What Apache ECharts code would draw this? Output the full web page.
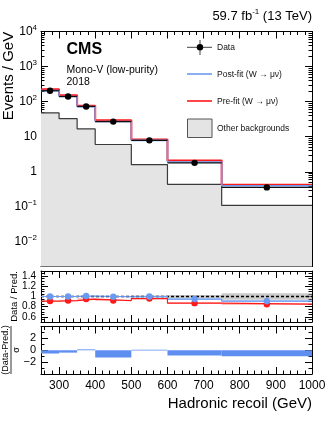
<!DOCTYPE html>
<html>
<head>
<meta charset="utf-8">
<script src="https://cdn.jsdelivr.net/npm/echarts@6/dist/echarts.min.js"></script>
<style>
html, body { margin: 0; padding: 0; background: #fff; }
#main { width: 332px; height: 430px; }
</style>
</head>
<body>
<div id="main"></div>
<script>
// bins of hadronic recoil (GeV)
var binEdges = [250, 300, 350, 400, 500, 600, 750, 1000];
// events / GeV
var dataVals = [205, 140, 73, 27, 7.9, 1.8, 0.36];
var dataErrs = [2, 1.7, 1.2, 0.5, 0.28, 0.11, 0.04];
var postFit = [206, 141, 72, 27.2, 7.9, 1.9, 0.40];
var preFit = [225, 152, 77, 29.5, 8.3, 2.1, 0.43];
var otherBkg = [48, 33, 16.7, 6.0, 1.6, 0.44, 0.11];
// ratio panel
var ratioPost = [1.0, 1.0, 1.01, 0.995, 1.0, 0.95, 0.91];
var ratioPre = [0.91, 0.92, 0.95, 0.92, 0.96, 0.87, 0.85];
var ratioErr = [0.01, 0.012, 0.016, 0.019, 0.03, 0.045, 0.065];
var uncBand = [0.008, 0.008, 0.01, 0.01, 0.015, 0.03, 0.065];
var postBand = [0.01, 0.01, 0.012, 0.012, 0.015, 0.02, 0.02];
var preBand = [0.008, 0.015, 0.018, 0.01, 0.012, 0.018, 0.015];
// pull panel
var pulls = [-0.55, -0.4, 0.15, -1.2, 0.1, -0.9, -1.0];
// axis labels
var ratioTicks = ['0.6', '0.8', '1', '1.2', '1.4'];
var pullTicks = ['-2', '0', '2'];

var FONT = '"Liberation Sans", Arial, Helvetica, sans-serif';
var BLUE = '#6b9af2';
var RED = '#ff1a1a';

function steps(vals) {
    var pts = [];
    vals.forEach(function (v, i) {
        pts.push([binEdges[i], v]);
        pts.push([binEdges[i + 1], v]);
    });
    return pts;
}
function points(vals, errs) {
    return vals.map(function (v, i) {
        return [(binEdges[i] + binEdges[i + 1]) / 2, v, binEdges[i], binEdges[i + 1], errs[i]];
    });
}
function bands(center, half) {
    return center.map(function (c, i) {
        var m = (typeof c === 'number') ? c : 1;
        return [binEdges[i], binEdges[i + 1], m - half[i], m + half[i]];
    });
}
function ones() { return binEdges.slice(1).map(function () { return 1; }); }

function pointRender(color, barColor, withX) {
    return function (params, api) {
        var x = api.value(0), y = api.value(1), e = api.value(4);
        var c = api.coord([x, y]);
        var t = api.coord([x, y + e]), d = api.coord([x, y - e]);
        var kids = [];
        if (withX) {
            var a = api.coord([api.value(2), y]), b = api.coord([api.value(3), y]);
            kids.push({type: 'line', shape: {x1: a[0], y1: a[1], x2: b[0], y2: b[1]}, style: {stroke: barColor, lineWidth: 1.2}});
        }
        kids.push({type: 'line', shape: {x1: t[0], y1: t[1], x2: d[0], y2: d[1]}, style: {stroke: barColor, lineWidth: 1}});
        kids.push({type: 'circle', shape: {cx: c[0], cy: c[1], r: 3.2}, style: {fill: color}});
        return {type: 'group', children: kids};
    };
}
function rectRender(fill) {
    return function (params, api) {
        var p0 = api.coord([api.value(0), api.value(2)]);
        var p1 = api.coord([api.value(1), api.value(3)]);
        return {type: 'rect', shape: {x: p0[0], y: Math.min(p0[1], p1[1]), width: p1[0] - p0[0], height: Math.max(Math.abs(p1[1] - p0[1]), 0.8)}, style: {fill: fill}};
    };
}

function xAx(grid, pos, showLabel) {
    return {
        type: 'value', gridIndex: grid, position: pos, min: 250, max: 1000, splitNumber: 7,
        axisLine: {show: true, onZero: false, lineStyle: {color: '#000', width: 1}},
        axisTick: {show: true, inside: true, length: 7, lineStyle: {color: '#000'}},
        minorTick: {show: true, splitNumber: 5, length: 3.5, lineStyle: {color: '#000'}},
        splitLine: {show: false},
        axisLabel: {
            show: showLabel, color: '#000', fontFamily: FONT, fontSize: 12, margin: 6,
            showMinLabel: true, showMaxLabel: true,
            formatter: function (v) { return v % 100 === 0 ? String(v) : ''; }
        }
    };
}
function yAx(grid, pos, extra) {
    var ax = {
        gridIndex: grid, position: pos,
        axisLine: {show: true, onZero: false, lineStyle: {color: '#000', width: 1}},
        axisTick: {show: true, inside: true, length: 7, lineStyle: {color: '#000'}},
        minorTick: {show: true, length: 3.5, lineStyle: {color: '#000'}},
        splitLine: {show: false},
        axisLabel: {show: false}
    };
    return Object.assign(ax, extra);
}

var logLabel = {
    show: true, color: '#000', fontFamily: FONT, fontSize: 12, margin: 4,
    formatter: function (v) {
        var e = Math.log10(v), r = Math.round(e);
        if (Math.abs(e - r) > 1e-6) return '';
        if (r === 0) return '{b|1}';
        if (r === 1) return '{b|10}';
        return '{b|10}{s|' + (r < 0 ? '\u2212' + (-r) : r) + '}';
    },
    rich: {
        b: {fontFamily: FONT, fontSize: 12, color: '#000'},
        s: {fontFamily: FONT, fontSize: 8, color: '#000', padding: [0, 0, 8, 0]}
    }
};

var chart = echarts.init(document.getElementById('main'), null, {renderer: 'canvas'});

var option = {
    animation: false,
    backgroundColor: '#fff',
    grid: [
        {left: 41, width: 271, top: 31.5, height: 235},
        {left: 41, width: 271, top: 271, height: 51},
        {left: 41, width: 271, top: 326.5, height: 47.5}
    ],
    xAxis: [
        xAx(0, 'bottom', false), xAx(0, 'top', false),
        xAx(1, 'bottom', false), xAx(1, 'top', false),
        xAx(2, 'bottom', true), xAx(2, 'top', false)
    ],
    yAxis: [
        yAx(0, 'left', {type: 'log', logBase: 10, min: 0.002, max: 10000, minorTick: {show: true, splitNumber: 9, length: 3.5, lineStyle: {color: '#000'}}, axisLabel: logLabel}),
        yAx(0, 'right', {type: 'log', logBase: 10, min: 0.002, max: 10000, minorTick: {show: true, splitNumber: 9, length: 3.5, lineStyle: {color: '#000'}}}),
        yAx(1, 'left', {type: 'value', min: 0.5, max: 1.5, splitNumber: 5, minorTick: {show: true, splitNumber: 4, length: 3.5, lineStyle: {color: '#000'}},
            axisLabel: {show: true, color: '#000', fontFamily: FONT, fontSize: 10, margin: 5,
                formatter: function (v) { var s = String(Math.round(v * 10) / 10); return ratioTicks.indexOf(s) >= 0 ? s : ''; }}}),
        yAx(1, 'right', {type: 'value', min: 0.5, max: 1.5, splitNumber: 5, minorTick: {show: true, splitNumber: 4, length: 3.5, lineStyle: {color: '#000'}}}),
        yAx(2, 'left', {type: 'value', min: -4, max: 4, splitNumber: 4, minorTick: {show: true, splitNumber: 2, length: 3.5, lineStyle: {color: '#000'}},
            axisLabel: {show: true, color: '#000', fontFamily: FONT, fontSize: 11, margin: 5,
                formatter: function (v) { var s = String(Math.round(v)); return pullTicks.indexOf(s) >= 0 ? s.replace('-', '\u2212') : ''; }}}),
        yAx(2, 'right', {type: 'value', min: -4, max: 4, splitNumber: 4, minorTick: {show: true, splitNumber: 2, length: 3.5, lineStyle: {color: '#000'}}})
    ],
    series: [
        // main panel
        {type: 'line', name: 'Other backgrounds', xAxisIndex: 0, yAxisIndex: 0, data: steps(otherBkg), symbol: 'none',
            lineStyle: {color: '#3a3a3a', width: 1.2}, areaStyle: {color: '#e4e4e4', origin: 'start', opacity: 1}, z: 1},
        {type: 'line', name: 'Pre-fit', xAxisIndex: 0, yAxisIndex: 0, data: steps(preFit), symbol: 'none',
            lineStyle: {color: RED, width: 2}, z: 3},
        {type: 'line', name: 'Post-fit', xAxisIndex: 0, yAxisIndex: 0, data: steps(postFit), symbol: 'none',
            lineStyle: {color: BLUE, width: 1.6}, z: 4},
        {type: 'custom', name: 'Data', xAxisIndex: 0, yAxisIndex: 0, data: points(dataVals, dataErrs),
            encode: {x: 0, y: 1}, renderItem: pointRender('#000', '#111', true), z: 6},
        // ratio panel
        {type: 'custom', xAxisIndex: 2, yAxisIndex: 2, data: bands(ones(), uncBand), encode: {x: [0, 1], y: [2, 3]},
            renderItem: rectRender('rgba(160,160,160,0.55)'), z: 1},
        {type: 'custom', xAxisIndex: 2, yAxisIndex: 2, data: bands(ratioPost, postBand), encode: {x: [0, 1], y: [2, 3]},
            renderItem: rectRender('rgba(107,154,242,0.35)'), z: 2},
        {type: 'custom', xAxisIndex: 2, yAxisIndex: 2, data: bands(ratioPre, preBand), encode: {x: [0, 1], y: [2, 3]},
            renderItem: rectRender('rgba(255,40,40,0.3)'), z: 2},
        {type: 'line', xAxisIndex: 2, yAxisIndex: 2, data: [[250, 1], [1000, 1]], symbol: 'none',
            lineStyle: {color: '#000', width: 1.5, type: [3, 2]}, z: 3},
        {type: 'line', xAxisIndex: 2, yAxisIndex: 2, data: steps(ratioPost), symbol: 'none',
            lineStyle: {color: BLUE, width: 1.2}, z: 4},
        {type: 'line', xAxisIndex: 2, yAxisIndex: 2, data: steps(ratioPre), symbol: 'none',
            lineStyle: {color: RED, width: 1.2}, z: 4},
        {type: 'custom', xAxisIndex: 2, yAxisIndex: 2, data: points(ratioPre, ratioErr), encode: {x: 0, y: 1},
            renderItem: pointRender(RED, RED, false), z: 5},
        {type: 'custom', xAxisIndex: 2, yAxisIndex: 2, data: points(ratioPost, ratioErr), encode: {x: 0, y: 1},
            renderItem: pointRender(BLUE, BLUE, false), z: 6},
        // pull panel
        {type: 'custom', xAxisIndex: 4, yAxisIndex: 4,
            data: pulls.map(function (p, i) { return [binEdges[i], binEdges[i + 1], 0, p]; }),
            encode: {x: [0, 1], y: [2, 3]}, renderItem: rectRender('#5e8ff0'), z: 2}
    ],
    graphic: [
        {type: 'text', right: 20, top: 8, style: {text: '59.7 fb{s|-1} (13 TeV)', fontFamily: FONT, fontSize: 13, fill: '#000',
            rich: {s: {fontFamily: FONT, fontSize: 8, fill: '#000', padding: [0, 0, 8, 0]}}}},
        {type: 'text', x: 9, y: 76, rotation: Math.PI / 2,
            style: {text: 'Events / GeV', fontFamily: FONT, fontSize: 15, fill: '#000', align: 'center', verticalAlign: 'middle'}},
        {type: 'text', x: 14.5, y: 296.5, rotation: Math.PI / 2,
            style: {text: 'Data / Pred.', fontFamily: FONT, fontSize: 9.5, fill: '#000', align: 'center', verticalAlign: 'middle'}},
        {type: 'text', x: 6, y: 350, rotation: Math.PI / 2,
            style: {text: '(Data-Pred.)', fontFamily: FONT, fontSize: 9, fill: '#000', align: 'center', verticalAlign: 'middle'}},
        {type: 'line', shape: {x1: 11, y1: 326, x2: 11, y2: 374}, style: {stroke: '#000', lineWidth: 0.8}},
        {type: 'text', x: 17, y: 350, rotation: Math.PI / 2,
            style: {text: '\u03c3', fontFamily: FONT, fontSize: 9, fill: '#000', align: 'center', verticalAlign: 'middle'}},
        {type: 'text', right: 20, top: 396, style: {text: 'Hadronic recoil (GeV)', fontFamily: FONT, fontSize: 15, fill: '#000'}},
        // labels inside the frame
        {type: 'text', x: 66.5, y: 50, style: {text: 'CMS', fontFamily: FONT, fontSize: 16, fontWeight: 'bold', fill: '#000', verticalAlign: 'middle'}},
        {type: 'text', x: 66.5, y: 70.5, style: {text: 'Mono-V (low-purity)', fontFamily: FONT, fontSize: 10.5, fill: '#000', verticalAlign: 'middle'}},
        {type: 'text', x: 66.5, y: 82, style: {text: '2018', fontFamily: FONT, fontSize: 10.5, fill: '#000', verticalAlign: 'middle'}},
        // legend
        {type: 'line', shape: {x1: 187, y1: 47.3, x2: 212, y2: 47.3}, style: {stroke: '#444', lineWidth: 1}},
        {type: 'line', shape: {x1: 200, y1: 40, x2: 200, y2: 55}, style: {stroke: '#444', lineWidth: 1}},
        {type: 'circle', shape: {cx: 200, cy: 47.3, r: 3.2}, style: {fill: '#000'}},
        {type: 'text', x: 217, y: 47.5, style: {text: 'Data', fontFamily: FONT, fontSize: 8.5, fill: '#111', verticalAlign: 'middle'}},
        {type: 'line', shape: {x1: 187, y1: 74, x2: 212, y2: 74}, style: {stroke: BLUE, lineWidth: 1.6}},
        {type: 'text', x: 217, y: 74.5, style: {text: 'Post-fit (W \u2192 \u03bc\u03bd)', fontFamily: FONT, fontSize: 8.5, fill: '#111', verticalAlign: 'middle'}},
        {type: 'line', shape: {x1: 187, y1: 101, x2: 212, y2: 101}, style: {stroke: RED, lineWidth: 1.6}},
        {type: 'text', x: 217, y: 101.5, style: {text: 'Pre-fit (W \u2192 \u03bc\u03bd)', fontFamily: FONT, fontSize: 8.5, fill: '#111', verticalAlign: 'middle'}},
        {type: 'rect', shape: {x: 187.5, y: 119, width: 24.5, height: 18.5}, style: {fill: '#e4e4e4', stroke: '#555', lineWidth: 1}},
        {type: 'text', x: 217, y: 128.5, style: {text: 'Other backgrounds', fontFamily: FONT, fontSize: 8.5, fill: '#111', verticalAlign: 'middle'}}
    ]
};
chart.setOption(option);
</script>
</body>
</html>
